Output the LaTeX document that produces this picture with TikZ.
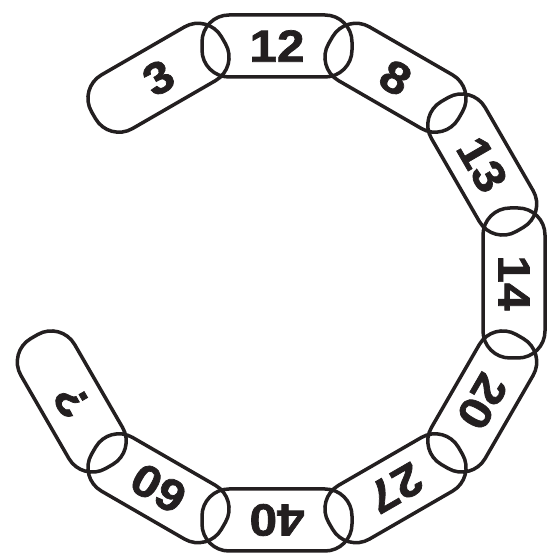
\documentclass[tikz,border=0pt]{standalone}
\usepackage{fontspec}
\setmainfont{Liberation Sans}
\newfontfamily\linkfont{Liberation Sans Bold}[FakeBold=1.6, FakeStretch=1.1]
\usepackage{tikz}
\usetikzlibrary{calc, positioning}
\definecolor{inkblack}{RGB}{35, 31, 32}

\tikzset{
    chainlink/.style={draw=inkblack, text=inkblack, line width=3.5pt,
        rounded corners=27pt, minimum width=150pt, minimum height=62pt,
        inner sep=0pt, font=\fontsize{45}{48}\linkfont}
}

\begin{document}
\begin{tikzpicture}[x=1pt, y=1pt]
    \useasboundingbox (0,0) rectangle (555,557);
    \coordinate (ctr) at (277,274);
    % links of the chain, clockwise from the top left
    \foreach \ang/\lab/\nm in {120/3/a, 90/12/b, 60/8/c, 30/13/d, 0/14/e,
        -30/20/f, -60/27/g, -90/40/h, -120/60/i, -150/?/j} {
        \node[chainlink, rotate=\ang-90] (link\nm) at ($(ctr)+(\ang:237)$) {\lab};
    }
\end{tikzpicture}
\end{document}
